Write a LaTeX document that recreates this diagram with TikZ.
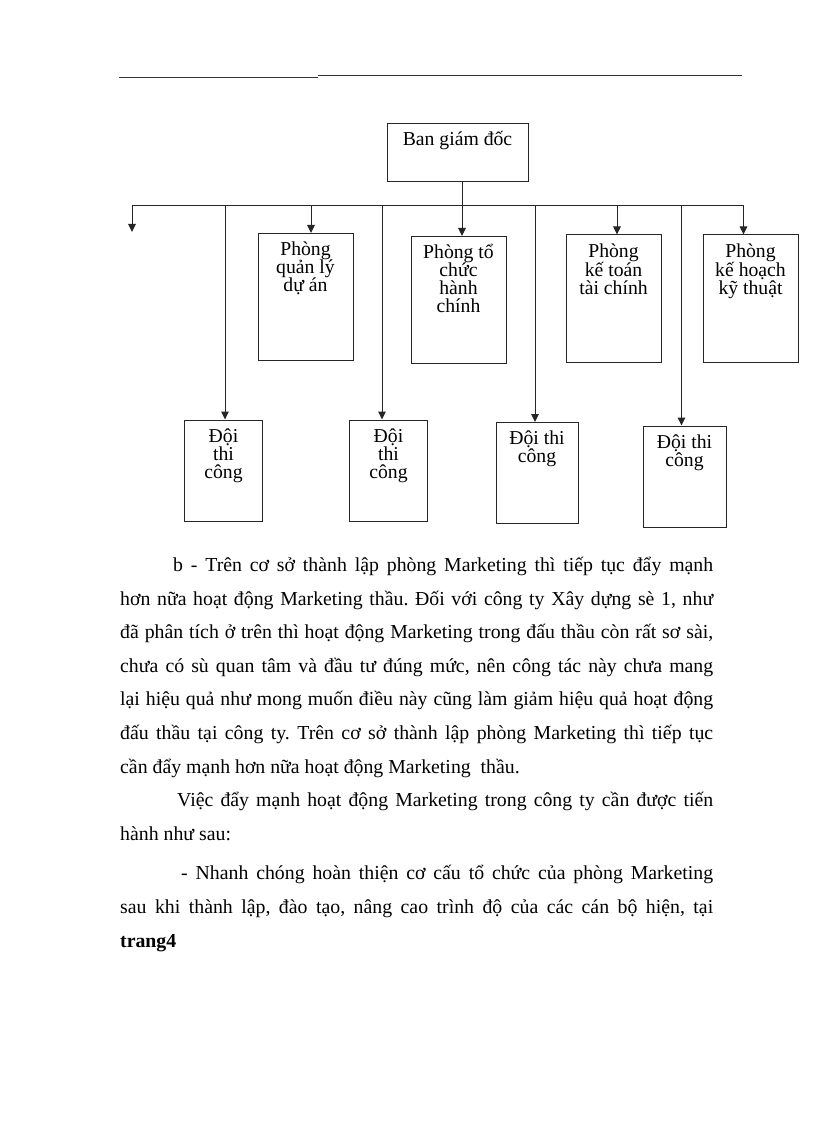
\documentclass[tikz,border=0pt]{standalone}
\usepackage{fontspec}
\setmainfont{Liberation Serif}
\usetikzlibrary{arrows.meta,positioning}

\newcommand{\boxfont}{\fontsize{19.7}{18}\selectfont}
\newcommand{\bodyfont}{\fontsize{19.8}{22}\selectfont\frenchspacing}
% text set from the top of a box of fixed size
\newcommand{\boxtext}[3]{\parbox[c][#2][t]{#1}{\centering\rule{0pt}{22pt}#3\par}}

\begin{document}
\begin{tikzpicture}[
  x=1pt, y=-1pt,
  >={Triangle[length=8pt,width=7.5pt]},
  dept/.style={rectangle, draw=black!85, line width=1pt, inner sep=0pt, font=\boxfont},
  link/.style={draw=black!85, line width=1pt},
  rule/.style={draw=black!80, line width=1pt},
  para/.style={anchor=base west, inner sep=0pt, font=\bodyfont}
]
\useasboundingbox (0,0) rectangle (816,1123);

% header rule
\draw[rule] (119,78) -- (318,78);
\draw[rule] (318,76) -- (742,76);

\node[dept] (ban) at (457.5,153) {\boxtext{141pt}{58pt}{Ban giám đốc}};

% phong ban
\node[dept] (qlda) at (305.5,297) {\boxtext{95pt}{127pt}{Phòng\\quản lý\\dự án}};
\node[dept, right of=qlda, node distance=153pt, yshift=-3pt] (ptc) {\boxtext{95pt}{127pt}{Phòng tổ\\chức\\hành\\chính}};
\node[dept, right of=ptc, node distance=155pt, yshift=1.5pt] (pkttc) {\boxtext{95pt}{127pt}{Phòng\\kế toán\\tài chính}};
\node[dept, right of=pkttc, node distance=137pt] (pkhkt) {\boxtext{95pt}{127pt}{Phòng\\kế hoạch\\kỹ thuật}};

% doi thi cong
\node[dept] (doi1) at (223.5,470.5) {\boxtext{78pt}{101pt}{Đội\\thi\\công}};
\node[dept, right of=doi1, node distance=165pt] (doi2) {\boxtext{78pt}{101pt}{Đội\\thi\\công}};
\node[dept, right of=doi2, node distance=148.5pt, yshift=-2.5pt] (doi3) {\boxtext{82pt}{101pt}{Đội thi\\công}};
\node[dept, right of=doi3, node distance=147.5pt, yshift=-3.5pt] (doi4) {\boxtext{83pt}{101pt}{Đội thi\\công}};

% bus
\coordinate (busL) at (132,206);
\coordinate (busR) at (744,206);
\coordinate (stub) at (132,232);
\draw[link] (busL) -- (busR);
\draw[link,->] (busL) -- (stub);
\draw[link,->] ([xshift=4.5pt]ban.south) -- ([xshift=3.5pt]ptc.north);
\foreach \x/\n in {311/qlda, 617/pkttc, 743.5/pkhkt, 225/doi1, 382/doi2, 535/doi3, 681.5/doi4}{
  \coordinate (drop-\n) at (\x,206);
  \draw[link,->] (drop-\n) -- (drop-\n |- \n.north);
}

% text below
\node[para] (l1) at (173,571.5) {\makebox[540pt][s]{b - Trên cơ sở thành lập phòng Marketing thì tiếp tục đẩy mạnh}};
\node[para] (l2) at (120,605.1) {\makebox[593pt][s]{hơn nữa hoạt động Marketing thầu. Đối với công ty Xây dựng sè 1, như}};
\node[para] (l3) at (120,638.7) {\makebox[593pt][s]{đã phân tích ở trên thì hoạt động Marketing trong đấu thầu còn rất sơ sài,}};
\node[para] (l4) at (120,672.3) {\makebox[593pt][s]{chưa có sù quan tâm và đầu tư đúng mức, nên công tác này chưa mang}};
\node[para] (l5) at (120,705.9) {\makebox[593pt][s]{lại hiệu quả như mong muốn điều này cũng làm giảm hiệu quả hoạt động}};
\node[para] (l6) at (120,739.5) {\makebox[593pt][s]{đấu thầu tại công ty. Trên cơ sở thành lập phòng Marketing thì tiếp tục}};
\node[para] (l7) at (120,773.1) {cần đẩy mạnh hơn nữa hoạt động Marketing \ thầu.};
\node[para] (l8) at (177,806.7) {\makebox[536pt][s]{Việc đẩy mạnh hoạt động Marketing trong công ty cần được tiến}};
\node[para] (l9) at (120,840.3) {hành như sau:};
\node[para] (l10) at (181,879) {\makebox[532pt][s]{- Nhanh chóng hoàn thiện cơ cấu tổ chức của phòng Marketing}};
\node[para] (l11) at (120,913) {\makebox[593pt][s]{sau khi thành lập, đào tạo, nâng cao trình độ của các cán bộ hiện, tại}};
\node[para] (l12) at (120,947) {\textbf{trang4}};
\end{tikzpicture}
\end{document}
